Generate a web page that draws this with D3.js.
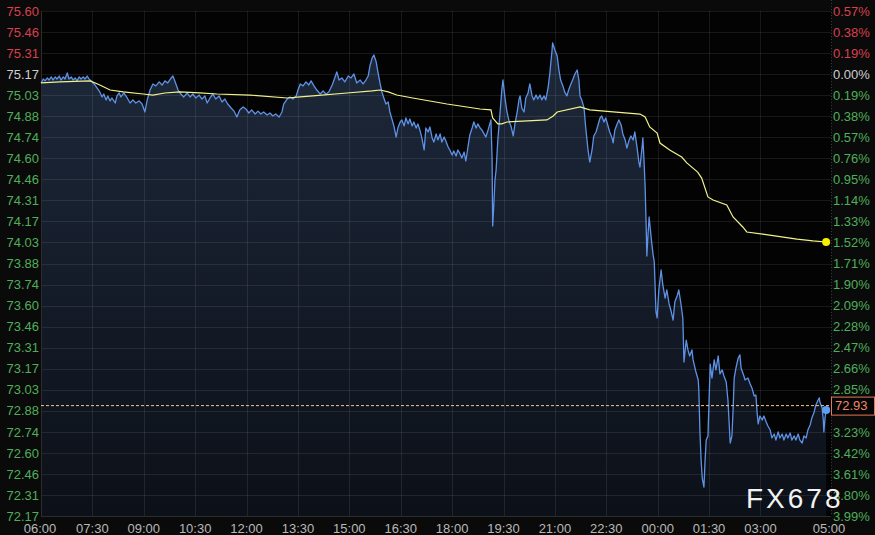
<!DOCTYPE html>
<html><head><meta charset="utf-8">
<script src="https://cdn.jsdelivr.net/npm/d3@7"></script>
<style>html,body{margin:0;padding:0;background:#0a0a0a;overflow:hidden}</style>
</head><body><svg id="c" width="875" height="535"></svg>
<script>
// [minutes since 06:00, price]
const priceData = [[0,75.111],[4,75.138],[7,75.125],[11,75.145],[14,75.131],[18,75.152],[21,75.131],[25,75.152],[28,75.138],[32,75.158],[35,75.131],[39,75.152],[42,75.138],[46,75.179],[49,75.138],[53,75.152],[56,75.131],[60,75.145],[63,75.125],[67,75.152],[70,75.138],[74,75.152],[77,75.138],[81,75.158],[84,75.138],[88,75.125],[93,75.104],[98,75.077],[103,75.050],[107,75.016],[110,75.036],[114,74.996],[117,75.023],[121,74.989],[124,75.009],[130,74.975],[133,75.023],[137,75.043],[140,75.016],[145,75.043],[151,75.009],[156,74.975],[161,74.996],[166,74.975],[172,74.989],[177,74.968],[182,74.914],[186,74.996],[191,75.063],[196,75.104],[201,75.091],[207,75.118],[212,75.097],[217,75.125],[222,75.111],[228,75.145],[231,75.158],[235,75.118],[240,75.063],[245,75.036],[250,75.016],[256,75.043],[261,75.016],[266,75.036],[271,75.009],[277,75.029],[282,75.002],[287,75.023],[291,74.975],[296,75.009],[301,75.036],[306,75.002],[312,75.023],[317,74.982],[322,75.002],[327,74.968],[333,74.941],[338,74.920],[343,74.880],[348,74.928],[354,74.948],[359,74.934],[364,74.907],[369,74.928],[375,74.900],[380,74.920],[385,74.900],[390,74.914],[396,74.893],[401,74.907],[406,74.887],[411,74.900],[417,74.880],[422,74.914],[425,74.968],[431,75.002],[436,75.016],[441,75.002],[447,75.023],[450,75.063],[454,75.104],[459,75.091],[464,75.118],[469,75.097],[473,75.125],[478,75.091],[483,75.063],[489,75.036],[494,75.057],[499,75.036],[504,75.050],[510,75.097],[515,75.152],[518,75.186],[522,75.131],[527,75.145],[532,75.118],[538,75.158],[543,75.145],[548,75.172],[553,75.111],[559,75.131],[564,75.104],[569,75.131],[573,75.158],[576,75.226],[580,75.281],[583,75.301],[587,75.254],[590,75.186],[594,75.104],[597,75.050],[601,75.002],[604,74.968],[608,74.982],[611,74.914],[615,74.860],[618,74.819],[622,74.744],[625,74.805],[629,74.846],[632,74.860],[636,74.819],[639,74.873],[643,74.833],[646,74.866],[650,74.819],[653,74.846],[657,74.805],[660,74.833],[664,74.785],[667,74.738],[671,74.656],[674,74.805],[678,74.778],[681,74.812],[685,74.738],[688,74.710],[692,74.765],[695,74.724],[699,74.765],[702,74.710],[706,74.744],[709,74.717],[713,74.676],[716,74.656],[720,74.622],[723,74.649],[727,74.615],[730,74.656],[734,74.629],[737,74.602],[741,74.642],[744,74.581],[748,74.683],[751,74.758],[755,74.805],[758,74.846],[762,74.805],[765,74.833],[769,74.805],[772,74.792],[776,74.765],[779,74.744],[783,74.792],[786,74.833],[788,74.860],[790,74.588],[791,74.140],[793,74.283],[795,74.452],[797,74.520],[800,74.724],[804,74.914],[807,75.063],[809,75.131],[813,74.996],[816,74.914],[820,74.846],[823,74.819],[827,74.751],[830,74.833],[834,74.914],[837,74.996],[839,75.023],[842,74.941],[846,74.914],[849,75.009],[853,75.043],[856,75.104],[860,75.023],[863,74.996],[867,75.029],[870,75.002],[874,75.029],[877,74.996],[881,75.023],[884,74.996],[888,75.077],[891,75.172],[895,75.335],[896,75.383],[900,75.335],[904,75.294],[907,75.199],[910,75.131],[914,75.091],[917,75.050],[921,75.023],[924,75.063],[928,75.104],[931,75.131],[935,75.172],[939,75.199],[942,75.131],[944,75.023],[947,74.996],[951,74.941],[954,74.805],[958,74.656],[961,74.574],[965,74.656],[968,74.751],[972,74.778],[975,74.819],[979,74.873],[982,74.887],[986,74.846],[989,74.873],[993,74.819],[996,74.778],[1000,74.738],[1002,74.704],[1005,74.792],[1009,74.833],[1012,74.860],[1016,74.826],[1019,74.765],[1023,74.724],[1026,74.669],[1030,74.724],[1033,74.751],[1037,74.724],[1040,74.778],[1044,74.669],[1047,74.574],[1049,74.540],[1053,74.690],[1054,74.738],[1056,74.588],[1058,74.404],[1060,74.112],[1061,73.936],[1063,74.078],[1065,74.201],[1069,74.044],[1072,73.943],[1074,73.895],[1077,73.556],[1079,73.515],[1082,73.705],[1086,73.841],[1089,73.739],[1093,73.650],[1096,73.705],[1100,73.610],[1103,73.569],[1107,73.501],[1110,73.623],[1114,73.664],[1117,73.705],[1121,73.603],[1124,73.515],[1126,73.216],[1130,73.365],[1133,73.298],[1136,73.257],[1140,73.298],[1142,73.230],[1147,73.148],[1151,73.094],[1152,73.026],[1154,72.741],[1156,72.551],[1158,72.428],[1161,72.367],[1163,72.551],[1165,72.686],[1168,72.714],[1170,72.958],[1172,73.202],[1175,73.107],[1179,73.230],[1182,73.162],[1186,73.257],[1189,73.135],[1193,73.162],[1196,73.121],[1200,73.080],[1203,72.958],[1207,72.666],[1210,72.714],[1212,72.890],[1214,73.107],[1217,73.175],[1221,73.243],[1224,73.264],[1226,73.175],[1231,73.121],[1233,73.094],[1238,73.107],[1242,73.067],[1245,73.040],[1249,72.985],[1252,72.992],[1254,72.877],[1256,72.795],[1259,72.849],[1263,72.822],[1266,72.849],[1270,72.809],[1273,72.781],[1277,72.754],[1280,72.700],[1284,72.727],[1287,72.686],[1291,72.741],[1294,72.700],[1298,72.727],[1301,72.686],[1305,72.727],[1308,72.700],[1312,72.734],[1315,72.686],[1319,72.714],[1322,72.686],[1326,72.727],[1329,72.686],[1333,72.666],[1336,72.714],[1340,72.700],[1343,72.754],[1347,72.788],[1350,72.836],[1354,72.877],[1357,72.924],[1361,72.958],[1363,72.972],[1364,72.944],[1368,72.903],[1370,72.822],[1371,72.741],[1373,72.836],[1375,72.890]];

// average price line [minutes since 06:00, price]
const avgData = [[0,75.111],[33,75.118],[86,75.125],[95,75.111],[103,75.097],[121,75.063],[144,75.050],[179,75.036],[196,75.029],[217,75.043],[243,75.050],[278,75.043],[308,75.036],[366,75.029],[431,75.009],[454,75.016],[476,75.023],[536,75.043],[580,75.057],[594,75.063],[608,75.050],[623,75.029],[651,75.009],[711,74.968],[769,74.934],[788,74.928],[791,74.873],[800,74.833],[807,74.833],[816,74.846],[886,74.860],[897,74.887],[904,74.914],[944,74.948],[961,74.928],[1002,74.914],[1049,74.900],[1058,74.880],[1066,74.812],[1079,74.771],[1084,74.703],[1101,74.656],[1122,74.608],[1131,74.568],[1150,74.506],[1157,74.465],[1168,74.337],[1177,74.316],[1201,74.282],[1212,74.201],[1229,74.133],[1236,74.099],[1264,74.085],[1324,74.051],[1352,74.038],[1375,74.031]];

const xTickLabels = ["06:00","07:30","09:00","10:30","12:00","13:30","15:00","16:30","18:00","19:30","21:00","22:30","00:00","01:30","03:00","05:00"];
const xTickMinutes = [0,90,180,270,360,450,540,630,720,810,900,990,1080,1170,1260,1380];
const yTickLabels = ["75.60","75.46","75.31","75.17","75.03","74.88","74.74","74.60","74.46","74.31","74.17","74.03","73.88","73.74","73.60","73.46","73.31","73.17","73.03","72.88","72.74","72.60","72.46","72.31","72.17"];
const pctTickLabels = ["0.57%","0.38%","0.19%","0.00%","0.19%","0.38%","0.57%","0.76%","0.95%","1.14%","1.33%","1.52%","1.71%","1.90%","2.09%","2.28%","2.47%","2.66%","2.85%","3.04%","3.23%","3.42%","3.61%","3.80%","3.99%"];
const basePrice = 75.171;
const tickStep = 0.1429;
const lastPrice = 72.93;

const svg = d3.select("#c");
const L = 41, R = 829, T = 11, B = 516, RB = 831;
const x = d3.scaleLinear().domain([0, 1380]).range([L, R]);
const y = d3.scaleLinear().domain([basePrice - 21*tickStep, basePrice + 3*tickStep]).range([B, T]);
const tickVal = i => basePrice + (3 - i) * tickStep;

svg.append("rect").attr("x",0).attr("y",0).attr("width",875).attr("height",535).attr("fill","#0a0a0a");
svg.append("rect").attr("x",L).attr("y",T).attr("width",RB-L).attr("height",B-T).attr("fill","#030303");

const defs = svg.append("defs");
const g = defs.append("linearGradient").attr("id","ag")
  .attr("gradientUnits","userSpaceOnUse").attr("x1",0).attr("x2",0).attr("y1",T).attr("y2",B);
g.append("stop").attr("offset","0%").attr("stop-color","#1e2a3d");
g.append("stop").attr("offset","100%").attr("stop-color","#0c1018");

const area = d3.area().x(d=>x(d[0])).y0(B).y1(d=>y(d[1]));
svg.append("path").datum(priceData).attr("d",area).attr("fill","url(#ag)");

// grid
svg.append("g").selectAll("line").data(yTickLabels).join("line")
  .attr("x1",L).attr("x2",RB).attr("y1",(d,i)=>Math.round(y(tickVal(i)))+0.5).attr("y2",(d,i)=>Math.round(y(tickVal(i)))+0.5)
  .attr("stroke","rgba(255,255,255,0.085)").attr("stroke-width",1);
svg.append("g").selectAll("line").data(xTickMinutes.slice(1,-1)).join("line")
  .attr("x1",d=>Math.round(x(d))+0.5).attr("x2",d=>Math.round(x(d))+0.5).attr("y1",T).attr("y2",B)
  .attr("stroke","rgba(255,255,255,0.085)").attr("stroke-width",1);
svg.append("line").attr("x1",L+0.5).attr("x2",L+0.5).attr("y1",T).attr("y2",B).attr("stroke","#2c2c2c");
svg.append("line").attr("x1",RB+0.5).attr("x2",RB+0.5).attr("y1",0).attr("y2",B).attr("stroke","#3a3a3a").attr("stroke-dasharray","1,2");
svg.append("line").attr("x1",L).attr("x2",RB).attr("y1",B+0.5).attr("y2",B+0.5).attr("stroke","#2c2c2c");

// lines
const line = d3.line().x(d=>x(d[0])).y(d=>y(d[1]));
svg.append("path").datum(priceData).attr("d",line).attr("fill","none").attr("stroke","#5e92e6").attr("stroke-width",1.3).attr("stroke-linejoin","round");
svg.append("path").datum(avgData).attr("d",line).attr("fill","none").attr("stroke","#f2f28a").attr("stroke-width",1.2);

// last price dashed line
svg.append("line").attr("x1",L).attr("x2",RB).attr("y1",y(lastPrice)+1.5).attr("y2",y(lastPrice)+1.5)
  .attr("stroke","#eec48c").attr("stroke-width",1).attr("stroke-dasharray","3,2");

// dots
const lastP = priceData[priceData.length-1], lastA = avgData[avgData.length-1];
svg.append("circle").attr("cx",x(lastA[0])).attr("cy",y(lastA[1])).attr("r",4).attr("fill","#f4f000");
svg.append("circle").attr("cx",x(lastP[0])).attr("cy",y(lastP[1])).attr("r",4).attr("fill","#5e9ef0");

// left labels
const colorFor = i => i < 3 ? "#d8404e" : (i === 3 ? "#cfcfcf" : "#4fae5a");
svg.append("g").selectAll("text").data(yTickLabels).join("text")
  .attr("x",39).attr("y",(d,i)=>y(tickVal(i))).attr("dy","0.36em").attr("text-anchor","end")
  .attr("font-family","Liberation Sans, Arial, sans-serif").attr("font-size",13).attr("fill",(d,i)=>colorFor(i)).text(d=>d);
// right labels
svg.append("g").selectAll("text").data(pctTickLabels).join("text")
  .attr("x",833).attr("y",(d,i)=>y(tickVal(i))).attr("dy","0.36em").attr("text-anchor","start")
  .attr("font-family","Liberation Sans, Arial, sans-serif").attr("font-size",13).attr("fill",(d,i)=>colorFor(i)).text(d=>d);
// x labels
svg.append("g").selectAll("text").data(xTickLabels).join("text")
  .attr("x",(d,i)=>x(xTickMinutes[i]) + (i===0?-1:0)).attr("y",533).attr("text-anchor","middle")
  .attr("font-family","Liberation Sans, Arial, sans-serif").attr("font-size",13).attr("fill","#b8b8b8").text(d=>d);

// last price box
const by = y(lastPrice)+1.5;
svg.append("rect").attr("x",RB+0.5).attr("y",by-8.5).attr("width",43).attr("height",18).attr("fill","#050505").attr("stroke","#e07a5a").attr("stroke-width",1);
svg.append("text").attr("x",835).attr("y",by).attr("dy","0.36em").attr("font-family","Liberation Sans, Arial, sans-serif")
  .attr("font-size",13).attr("fill","#f0876a").text(lastPrice.toFixed(2));

// watermark
svg.append("text").attr("x",746).attr("y",508).attr("font-family","Liberation Sans, Arial, sans-serif")
  .attr("font-size",28).attr("letter-spacing",3).attr("fill","#f2f2f2").text("FX678");
</script></body></html>
